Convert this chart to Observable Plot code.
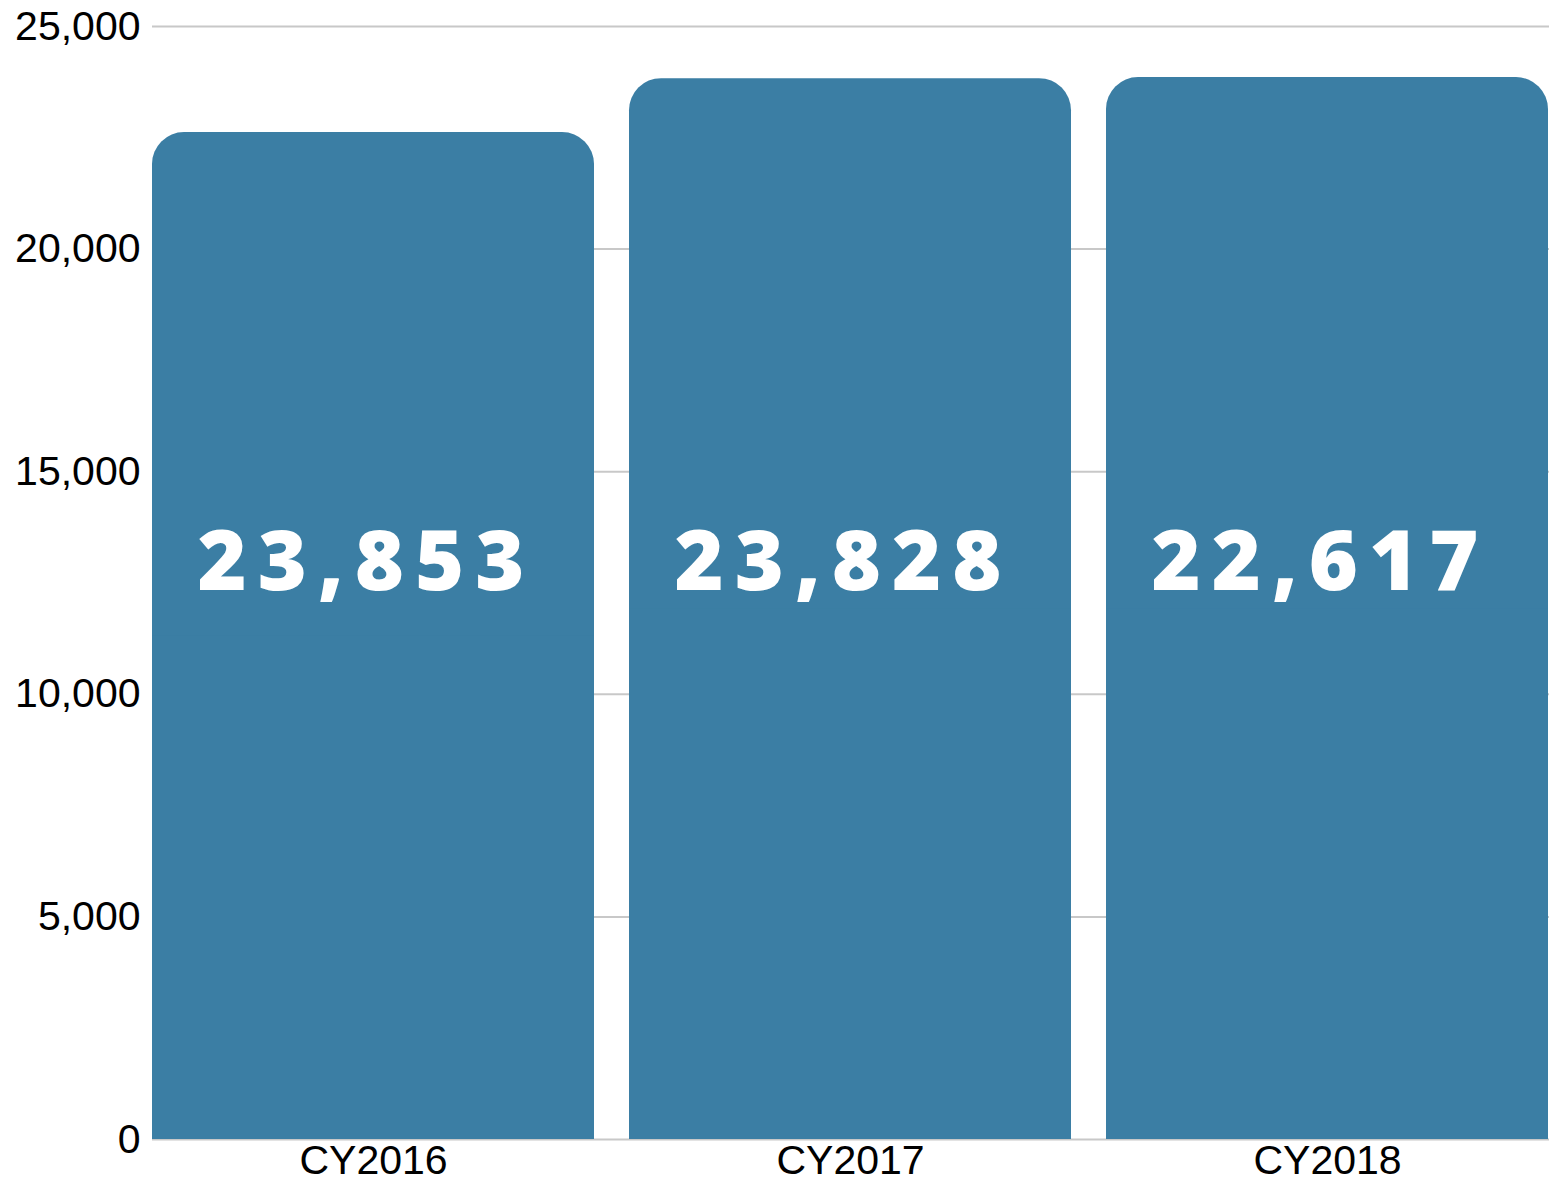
<!DOCTYPE html>
<html>
<head>
<meta charset="utf-8">
<script src="https://cdn.jsdelivr.net/npm/d3@7"></script>
<script src="https://cdn.jsdelivr.net/npm/@observablehq/plot@0.6"></script>
<style>
  html, body { margin: 0; padding: 0; background: #fff; }
  #chart svg { display: block; }
  .vlabel text { letter-spacing: 11px; }
</style>
</head>
<body>
<div id="chart"></div>
<script>
const years = ["CY2016", "CY2017", "CY2018"];
const barHeights = [22617, 23828, 23853];
const barLabels = ["23,853", "23,828", "22,617"];
const yTicks = [0, 5000, 10000, 15000, 20000, 25000];

const data = years.map((year, i) => ({ year, value: barHeights[i], label: barLabels[i] }));
const barColor = "#3b7ea4";

const chart = Plot.plot({
  width: 1562,
  height: 1184,
  marginTop: 26,
  marginBottom: 45,
  marginLeft: 152,
  marginRight: 13,
  style: { fontFamily: "'Liberation Sans', Arial, sans-serif", fontSize: "41px", color: "#000", background: "#fff" },
  x: { domain: years, paddingInner: 0.073, paddingOuter: 0, label: null, tickSize: 0, tickPadding: 5 },
  y: { domain: [0, 25000], ticks: yTicks, tickFormat: d3.format(","), label: null, tickSize: 0, tickPadding: 12 },
  marks: [
    Plot.gridY(yTicks, { stroke: "#c8c8c8", strokeOpacity: 1, strokeWidth: 2 }),
    Plot.barY(data, { x: "year", y: "value", fill: barColor, rx: 32 }),
    Plot.barY(data, { x: "year", y: d => d.value / 2, fill: barColor }),
    Plot.text(data, {
      x: "year",
      frameAnchor: "middle",
      dy: -20,
      dx: -7,
      text: "label",
      fill: "#fff",
      fontSize: 84,
      fontWeight: 800,
      fontFamily: "'Open Sans', sans-serif",
      className: "vlabel"
    })
  ]
});
document.getElementById("chart").appendChild(chart);
</script>
</body>
</html>
